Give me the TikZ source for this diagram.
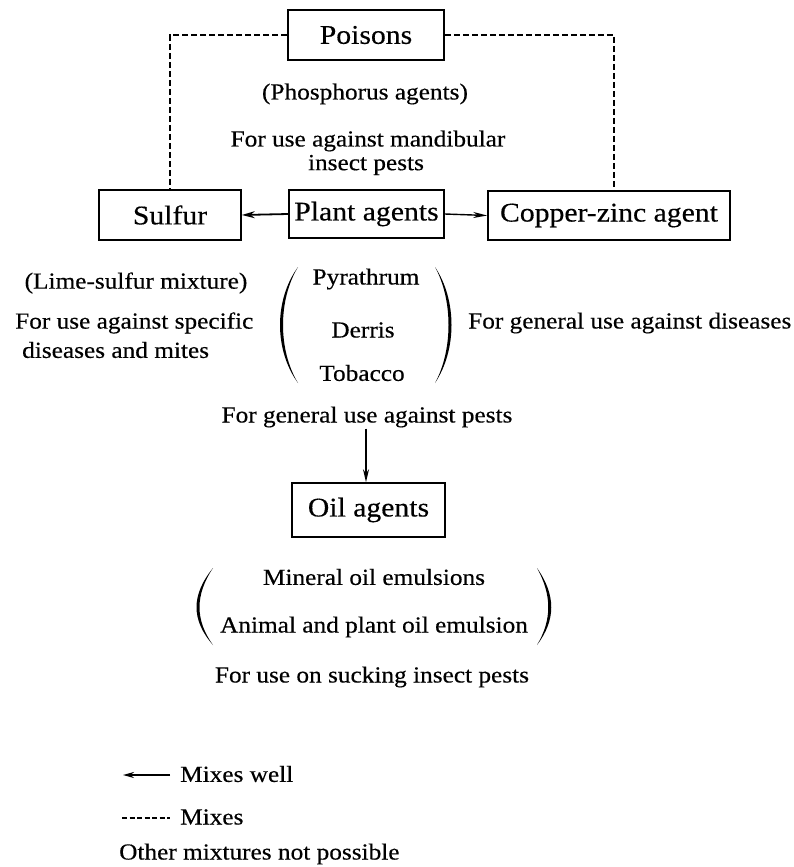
\documentclass[tikz,border=0pt]{standalone}
\usepackage{fontspec}
\setmainfont{Liberation Serif}[FakeStretch=1.1,FakeBold=0.4]
\usetikzlibrary{arrows.meta}
\tikzset{
  box/.style={draw, line width=1.6pt, minimum height=48pt, inner sep=2pt, font=\fontsize{27}{31}\selectfont},
  txt/.style={inner sep=1pt, font=\fontsize{23}{27}\selectfont},
  dsh/.style={line width=1.6pt, dash pattern=on 6pt off 3pt},
  arr/.style={line width=1.8pt, -{Stealth[length=13pt,width=7pt]}},
  parenfill/.style={fill=black},
}
\begin{document}
\begin{tikzpicture}[x=1pt,y=-1pt]
\useasboundingbox (0,0) rectangle (794,867);
% boxes
\node[box, minimum width=156pt, minimum height=50pt] (poi) at (366,35) {Poisons};
\node[box, minimum width=142pt, minimum height=50pt] (sul) at (170,215) {Sulfur};
\node[box, minimum width=155pt] (pla) at (366.5,214) {Plant agents};
\node[box, minimum width=242pt, minimum height=49pt] (cop) at (609,215.5) {Copper-zinc agent};
\node[box, minimum width=153pt, minimum height=54pt] (oil) at (368.5,510) {Oil agents};
% texts
\node[txt] (phos) at (365,94) {(Phosphorus agents)};
\node[txt] (mand1) at (368,141) {For use against mandibular};
\node[txt] (mand2) at (366,165) {insect pests};
\node[txt] (lime) at (136,283) {(Lime-sulfur mixture)};
\node[txt, anchor=west] (spec1) at (14,323) {For use against specific};
\node[txt, anchor=west] (spec2) at (21,350) {diseases and mites};
\node[txt] (pyr) at (366,279) {Pyrathrum};
\node[txt] (der) at (363,330) {Derris};
\node[txt] (tob) at (362,373) {Tobacco};
\node[txt, anchor=west] (gdis) at (467,323) {For general use against diseases};
\node[txt] (gpes) at (367,417) {For general use against pests};
\node[txt] (min) at (374,577) {Mineral oil emulsions};
\node[txt] (ani) at (374,627) {Animal and plant oil emulsion};
\node[txt] (suck) at (372,677) {For use on sucking insect pests};
% parentheses (crescent shapes)
\fill[parenfill] (298,267) .. controls (274,300) and (274,350) .. (298,383)
  .. controls (278,350) and (278,300) .. cycle;
\fill[parenfill] (435,267) .. controls (457,300) and (457,350) .. (435,383)
  .. controls (453,350) and (453,300) .. cycle;
\fill[parenfill] (213,568) .. controls (191,595) and (191,620) .. (213,645)
  .. controls (195,620) and (195,595) .. cycle;
\fill[parenfill] (537,568) .. controls (556,595) and (556,620) .. (537,645)
  .. controls (552,620) and (552,595) .. cycle;
% connectors
\draw[dsh] (poi.west) -| (sul.north);
\draw[dsh] (poi.east) -| (cop.north -| 614,0);
\draw[arr] (pla.west) -- (sul.east);
\draw[arr, line width=1.4pt, -{Stealth[length=14pt,width=6pt]}] (pla.east) -- (cop.west);
\draw[arr, line width=1.4pt, -{Stealth[length=13pt,width=6pt]}] (gpes.south -| 366,0) -- (oil.north -| 366,0);
% legend
\coordinate (l1a) at (170,775);
\coordinate (l1b) at (123,775);
\coordinate (l2a) at (122,818);
\coordinate (l2b) at (170,818);
\draw[arr, -{Stealth[length=11pt,width=6pt]}] (l1a) -- (l1b);
\node[txt, anchor=west] (leg1) at (179,774) {Mixes well};
\draw[dsh, line width=1.3pt, dash pattern=on 5pt off 2.5pt] (l2a) -- (l2b);
\node[txt, anchor=west] (leg2) at (179,817) {Mixes};
\node[txt, anchor=west] (leg3) at (118,854) {Other mixtures not possible};
\end{tikzpicture}
\end{document}
